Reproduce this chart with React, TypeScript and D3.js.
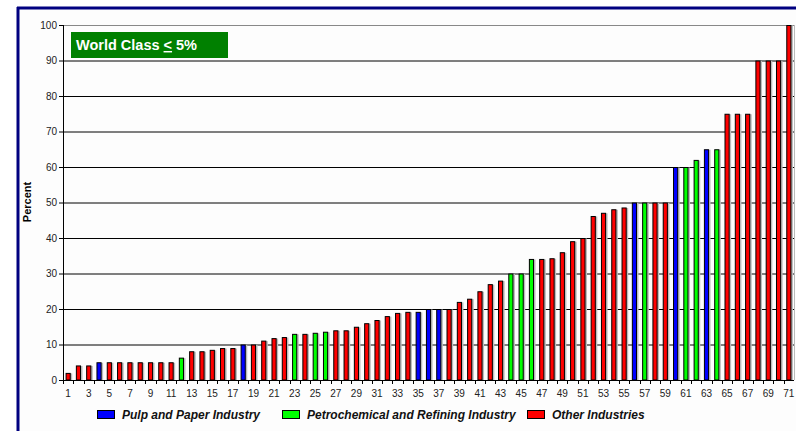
import * as d3 from "d3";

const values = [
  2, 4.1, 4.1, 5, 5, 5, 5, 5, 5, 5, 5, 6.3, 8.1, 8.1, 8.5, 9, 9, 10, 10, 11.1,
  11.8, 12.1, 13, 13, 13.3, 13.6, 14, 14, 15, 16, 16.9, 18, 18.9, 19.2, 19.2, 20,
  20, 20, 22, 22.9, 25, 27, 28, 30, 30, 34.1, 34.1, 34.3, 36, 39.1, 40, 46.2, 47.1,
  48.1, 48.6, 50, 50, 50, 50, 60, 60, 62, 65, 65, 75, 75, 75, 90, 90, 90, 100,
];
// p = pulp & paper, c = petrochemical, o = other
const industry = [
  "o", "o", "o", "p", "o", "o", "o", "o", "o", "o", "o", "c", "o", "o", "o", "o", "o", "p", "o", "o",
  "o", "o", "c", "o", "c", "c", "o", "o", "o", "o", "o", "o", "o", "o", "p", "p", "p", "o", "o", "o",
  "o", "o", "o", "c", "c", "c", "o", "o", "o", "o", "o", "o", "o", "o", "o", "p", "c", "o", "o", "p",
  "c", "c", "p", "c", "o", "o", "o", "o", "o", "o", "o",
];
const categories = values.map((_, i) => i + 1);
const yTicks = [0, 10, 20, 30, 40, 50, 60, 70, 80, 90, 100];
const legendItems = [
  { key: "p", label: "Pulp and Paper Industry", x: 97 },
  { key: "c", label: "Petrochemical and Refining Industry", x: 282 },
  { key: "o", label: "Other Industries", x: 527 },
];
const colors: Record<string, string> = { p: "#0000ff", c: "#00ff00", o: "#ff0000" };

export default function App() {
  const width = 796;
  const height = 431;
  const x = d3.scaleBand<number>().domain(categories).range([63, 794]).paddingInner(0.5).paddingOuter(0.25);
  const y = d3.scaleLinear().domain([0, 100]).range([380, 25]);
  const font = "Liberation Sans, Arial, sans-serif";
  const step = x.step();

  return (
    <svg
      width={width}
      height={height}
      style={{ position: "absolute", left: 0, top: 0, background: "#fff" }}
      fontFamily={font}
    >
      <rect x={18} y={8} width={780} height={430} fill="#fdfdfd" />
      <line x1={18} x2={18} y1={7} y2={431} stroke="#000080" strokeWidth={3} />
      <line x1={17} x2={796} y1={8} y2={8} stroke="#000080" strokeWidth={3} />

      {yTicks.map((t) => (
        <g key={t}>
          {t > 0 && (
            <line
              x1={63}
              x2={794}
              y1={y(t) + 0.5}
              y2={y(t) + 0.5}
              stroke={t === 100 ? "#888" : "#000"}
              strokeWidth={1}
            />
          )}
          <line x1={59} x2={63} y1={y(t) + 0.5} y2={y(t) + 0.5} stroke="#000" />
          <text x={57} y={y(t) + 3.5} textAnchor="end" fontSize={10} fill="#222">
            {t}
          </text>
        </g>
      ))}
      <line x1={794.5} x2={794.5} y1={25} y2={380} stroke="#bbb" />

      {values.map((v, i) => {
        const c = categories[i];
        const bx = x(c)!;
        return (
          <g key={c}>
            <rect
              x={bx + 1.5}
              y={y(v) + 0.5}
              width={x.bandwidth()}
              height={380 - y(v)}
              fill="#bbb"
            />
            <rect
              x={bx + 0.5}
              y={y(v) + 0.5}
              width={x.bandwidth() - 1}
              height={380 - y(v) - 0.5}
              fill={colors[industry[i]]}
              stroke="#000"
              strokeWidth={1}
            />
          </g>
        );
      })}

      <line x1={63.5} x2={63.5} y1={25} y2={381} stroke="#000" />
      <line x1={59} x2={794} y1={380.5} y2={380.5} stroke="#000" />
      {categories.map((c) => (
        <line
          key={"t" + c}
          x1={Math.round(x(c)! - (step - x.bandwidth()) / 2) + 0.5}
          x2={Math.round(x(c)! - (step - x.bandwidth()) / 2) + 0.5}
          y1={380}
          y2={384}
          stroke="#000"
        />
      ))}
      {categories
        .filter((c) => c % 2 === 1)
        .map((c) => (
          <text
            key={"l" + c}
            x={x(c)! + x.bandwidth() / 2}
            y={397}
            textAnchor="middle"
            fontSize={10}
            fill="#222"
          >
            {c}
          </text>
        ))}

      <text
        transform="translate(31,202) rotate(-90)"
        textAnchor="middle"
        fontSize={11}
        fontWeight="bold"
        fill="#000"
      >
        Percent
      </text>

      <rect x={71} y={32} width={157} height={26} fill="#008000" />
      <text x={76} y={50} fontSize={14.5} fontWeight="bold" fill="#fff">
        World Class <tspan textDecoration="underline">&lt;</tspan> 5%
      </text>

      {legendItems.map((d) => (
        <g key={d.key}>
          <rect x={d.x + 0.5} y={410.5} width={17} height={8} fill={colors[d.key]} stroke="#000" />
          <text
            x={d.x + 25}
            y={419}
            fontSize={12}
            fontWeight="bold"
            fontStyle="italic"
            fill="#111"
          >
            {d.label}
          </text>
        </g>
      ))}
    </svg>
  );
}
